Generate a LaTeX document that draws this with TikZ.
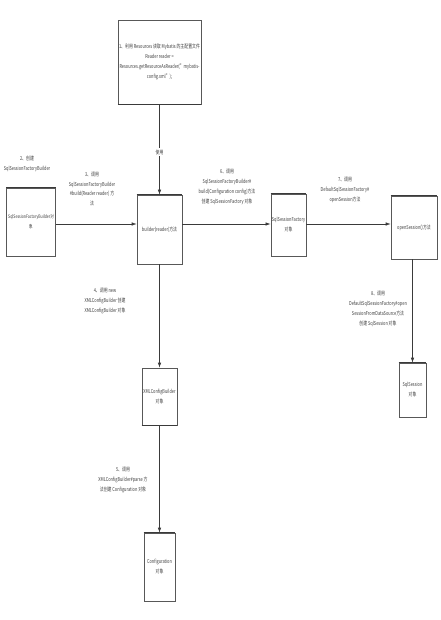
\documentclass[tikz,border=0pt]{standalone}
\usepackage{fontspec}
\setmainfont{Noto Sans CJK SC}[FakeStretch=0.72]
\usetikzlibrary{arrows.meta}
\definecolor{ln}{HTML}{3A3A3A}
\definecolor{tx}{HTML}{404040}
\tikzset{
  box/.style={draw=ln!85, line width=0.6pt, fill=white, inner sep=1pt, align=center,
    font=\fontsize{5.4}{10}\selectfont, text=tx},
  lbl/.style={align=center, font=\fontsize{5.4}{9.8}\selectfont, text=tx, inner sep=1pt},
  arr/.style={draw=ln, line width=0.6pt, -{Latex[length=5pt,width=3.4pt]}},
  edge/.style={draw=ln, line width=1.2pt}
}
\newcommand{\topedge}[1]{\draw[edge] (#1.north west) -- (#1.north east);}
\newcommand{\botedge}[1]{\draw[edge] (#1.south west) -- (#1.south east);}
\begin{document}
\begin{tikzpicture}[x=1pt,y=-1pt]
\useasboundingbox[fill=white] (0,0) rectangle (440,620);

\node[box, minimum width=77pt, minimum height=84pt] (b1) at (159.5,62)
  {1、利用 Resources 读取 Mybatis 的主配置文件\\Reader reader =\\Resources.getResourceAsReader("mybatis-\\config.xml");};
\botedge{b1}
\node[box, minimum width=49pt, minimum height=68pt, font=\fontsize{4.9}{10}\selectfont] (sfb) at (31,222)
  {SqlSessionFactoryBuilder对\\象};
\topedge{sfb}
\node[box, minimum width=45pt, minimum height=69pt] (bld) at (159.5,229.5)
  {builder(reader)方法};
\topedge{bld}
\node[box, minimum width=33pt, minimum height=62pt] (sf) at (288.5,225)
  {SqlSessionFactory\\对象};
\topedge{sf}
\node[box, minimum width=46pt, minimum height=63pt] (open) at (414,227.5)
  {openSession()方法};
\topedge{open}
\node[box, minimum width=27pt, minimum height=54pt] (ss) at (412.5,390)
  {SqlSession\\对象};
\topedge{ss}
\node[box, minimum width=35pt, minimum height=57pt] (xml) at (159.5,396.5)
  {XMLConfigBuilder\\对象};
\botedge{xml}
\node[box, minimum width=31pt, minimum height=68pt] (conf) at (159.5,567)
  {Configuration\\对象};
\topedge{conf}

\coordinate (ya) at (0,224);
\draw[arr] (b1.south) -- (bld.north);
\node[lbl, fill=white] (use) at (159.5,152) {使用};
\draw[arr] (sfb.east |- ya) -- (bld.west |- ya);
\draw[arr] (bld.east |- ya) -- (sf.west |- ya);
\draw[arr] (sf.east |- ya) -- (open.west |- ya);
\draw[arr] (bld.south) -- (xml.north);
\draw[arr] (xml.south) -- (conf.north);
\draw[arr] (open.south -| ss.north) -- (ss.north);

\node[lbl] (l2) at (27,164) {2、创建\\SqlSessionFactoryBuilder};
\node[lbl] (l3) at (92,189) {3、调用\\SqlSessionFactoryBuilder\\\#build(Reader reader) 方\\法};
\node[lbl] (l6) at (227,187) {6、调用\\SqlSessionFactoryBuilder\#\\build(Configuration config)方法\\创建 SqlSessionFactory 对象};
\node[lbl] (l7) at (345,190) {7、调用\\DefaultSqlSessionFactory\#\\openSession方法};
\node[lbl] (l4) at (105,301) {4、调用 new\\XMLConfigBuilder 创建\\XMLConfigBuilder 对象};
\node[lbl] (l8) at (378,309) {8、调用\\DefaultSqlSessionFactory\#open\\SessionFromDataSource方法\\创建 SqlSession 对象};
\node[lbl] (l5) at (123,480) {5、调用\\XMLConfigBuilder\#parse 方\\法创建 Configuration 对象};
\end{tikzpicture}
\end{document}
